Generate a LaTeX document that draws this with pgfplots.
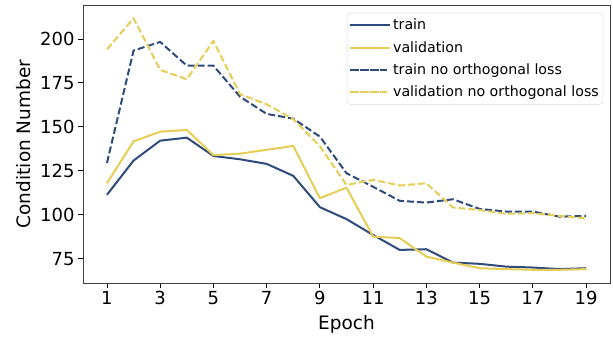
\documentclass[border=0pt]{standalone}
\usepackage{fontspec}
\setmainfont{DejaVu Sans}
\usepackage{pgfplots}
\pgfplotsset{compat=1.18}
\definecolor{tblue}{RGB}{47,74,124}
\definecolor{tyellow}{RGB}{230,205,85}
\begin{document}
\begin{tikzpicture}
\begin{axis}[
  at={(0,0)}, anchor=south west,
  scale only axis, width=527pt, height=278pt,
  xmin=0.1, xmax=19.9, ymin=61.3, ymax=219.3,
  xtick={1,3,...,19}, ytick={75,100,...,200},
  xtick pos=left, ytick pos=left,
  tick align=outside, major tick length=5pt,
  tick style={black, line width=0.9pt},
  axis line style={black!75, line width=0.9pt},
  /pgf/number format/assume math mode=true,
  ticklabel style={font=\fontsize{18}{20}\selectfont},
  label style={font=\fontsize{18.5}{21}\selectfont},
  xlabel={Epoch}, ylabel={Condition Number},
  xlabel style={yshift=-3pt},
  ylabel style={yshift=2pt},
  legend cell align=left,
  legend style={at={(1,1)}, anchor=north east, xshift=-7pt, yshift=-8pt,
    font=\fontsize{14.2}{16}\selectfont, draw=black!15, rounded corners=3pt,
    fill=white, fill opacity=0.8, text opacity=1, row sep=6pt,
    inner xsep=2pt, inner ysep=4pt},
  legend image code/.code={\draw[#1] (0pt,0pt) -- (30pt,0pt); \path (-2pt,0pt) -- (38pt,0pt);},
  every axis plot/.append style={line width=2pt, line join=round},
]
\addplot[tblue] coordinates {(1,111.4) (2,130.9) (3,142.2) (4,143.9) (5,133.5) (6,131.6) (7,129) (8,122.2) (9,104.4) (10,97.6) (11,88.6) (12,80.1) (13,80.5) (14,72.9) (15,72.2) (16,70.6) (17,70.1) (18,69.2) (19,69.7)};
\addlegendentry{train}
\addplot[tyellow] coordinates {(1,118) (2,141.8) (3,147.3) (4,148.3) (5,134) (6,134.8) (7,137) (8,139.2) (9,109.5) (10,115.5) (11,87.7) (12,86.8) (13,76.3) (14,72.9) (15,69.7) (16,69.2) (17,68.8) (18,68.8) (19,69.2)};
\addlegendentry{validation}
\addplot[tblue, dash pattern=on 7pt off 3pt] coordinates {(1,129.5) (2,193.4) (3,198.3) (4,184.8) (5,184.8) (6,167.2) (7,157.4) (8,154.7) (9,144.5) (10,123.7) (11,116) (12,108) (13,107) (14,108.9) (15,103.4) (16,101.9) (17,101.9) (18,99) (19,99.4)};
\addlegendentry{train no orthogonal loss}
\addplot[tyellow, dash pattern=on 7pt off 3pt] coordinates {(1,194.1) (2,211.8) (3,182.4) (4,177.1) (5,198.9) (6,168.6) (7,162.9) (8,154.4) (9,139) (10,117) (11,119.9) (12,116.7) (13,118) (14,104.2) (15,102.8) (16,100.6) (17,101) (18,99.4) (19,98.1)};
\addlegendentry{validation no orthogonal loss}
\end{axis}
\pgfresetboundingbox
\path[use as bounding box] ([xshift=-83pt,yshift=-54pt]current axis.south west) rectangle ([xshift=3pt,yshift=5pt]current axis.north east);
\end{tikzpicture}
\end{document}
